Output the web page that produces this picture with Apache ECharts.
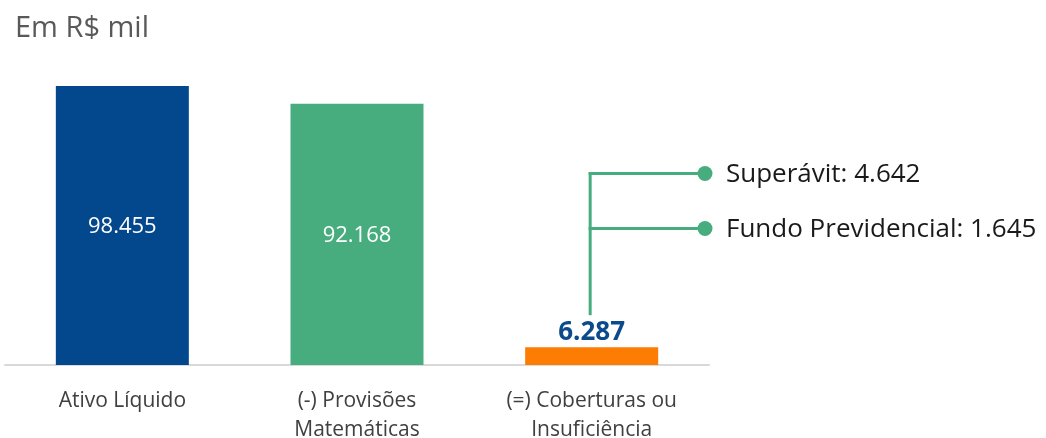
<!DOCTYPE html>
<html>
<head>
<meta charset="utf-8">
<script src="https://cdn.jsdelivr.net/npm/echarts@6/dist/echarts.min.js"></script>
<style>
  html, body { margin: 0; padding: 0; background: #fff; }
  #main { width: 1046px; height: 438px; }
</style>
</head>
<body>
<div id="main"></div>
<script>
// dados do gráfico
var categorias = ['Ativo Líquido', '(-) Provisões\nMatemáticas', '(=) Coberturas ou\nInsuficiência']
var valores = [98455, 92168, 6287]
var cores = ['#03478c', '#47ad7e', '#fd7c04']
var detalheNomes = ['Superávit', 'Fundo Previdencial']
var detalheValores = [4642, 1645]

var fmt = function (v) {
  return v.toLocaleString('pt-BR')
}

var myChart = echarts.init(document.getElementById('main'), null, { renderer: 'canvas' })
var fonte = '"Open Sans", "Noto Sans", sans-serif'

myChart.setOption({
  animation: false,
  textStyle: { fontFamily: fonte },
  title: {
    text: 'Em R$ mil',
    left: 10,
    top: 9,
    textStyle: { fontSize: 29, fontWeight: 'normal', color: '#595959', fontFamily: fonte }
  },
  grid: { left: 5, right: 337, top: 81.6, bottom: 73, outerBoundsMode: 'none' },
  xAxis: {
    type: 'category',
    data: categorias,
    axisLine: { lineStyle: { color: '#d9d9d9', width: 2 } },
    axisTick: { show: false },
    axisLabel: { fontSize: 21, color: '#404040', lineHeight: 29, margin: 22, fontFamily: fonte }
  },
  yAxis: {
    type: 'value',
    min: 0,
    max: 100000,
    show: false,
    splitLine: { show: false }
  },
  series: [
    {
      type: 'bar',
      barWidth: 133,
      data: valores.map(function (v, i) {
        var item = { value: v, itemStyle: { color: cores[i] } }
        if (i < 2) item.label = { show: true, position: 'inside', offset: [0, 1], color: '#fff', fontSize: 22 }
        if (i === 2) item.label = { show: true, position: 'top', distance: 2, color: '#0b4a8b', fontSize: 26, fontWeight: 'bold' }
        return item
      }),
      label: {
        fontFamily: fonte,
        formatter: function (p) {
          return fmt(p.value)
        }
      }
    }
  ]
})

// anotação da cobertura
var base = myChart.convertToPixel({ xAxisIndex: 0, yAxisIndex: 0 }, [2, valores[2]])
var xv = base[0] - 1.5
var ys = [173.5, 228.5]
var xd = 705
var verde = '#47ad7e'
var els = [
  { type: 'line', shape: { x1: xv, y1: base[1] - 32, x2: xv, y2: ys[0] - 1.5 }, style: { stroke: verde, lineWidth: 3 } }
]
detalheNomes.forEach(function (n, i) {
  els.push({ type: 'line', shape: { x1: xv - 1.5, y1: ys[i], x2: xd, y2: ys[i] }, style: { stroke: verde, lineWidth: 3 } })
  els.push({ type: 'circle', shape: { cx: xd, cy: ys[i], r: 7.5 }, style: { fill: verde } })
  els.push({
    type: 'text',
    x: 726,
    y: ys[i] + 1.5,
    style: {
      text: n + ': ' + fmt(detalheValores[i]),
      fontSize: 26,
      fill: '#1a1a1a',
      fontFamily: fonte,
      verticalAlign: 'middle'
    }
  })
})
myChart.setOption({ graphic: els })
</script>
</body>
</html>
